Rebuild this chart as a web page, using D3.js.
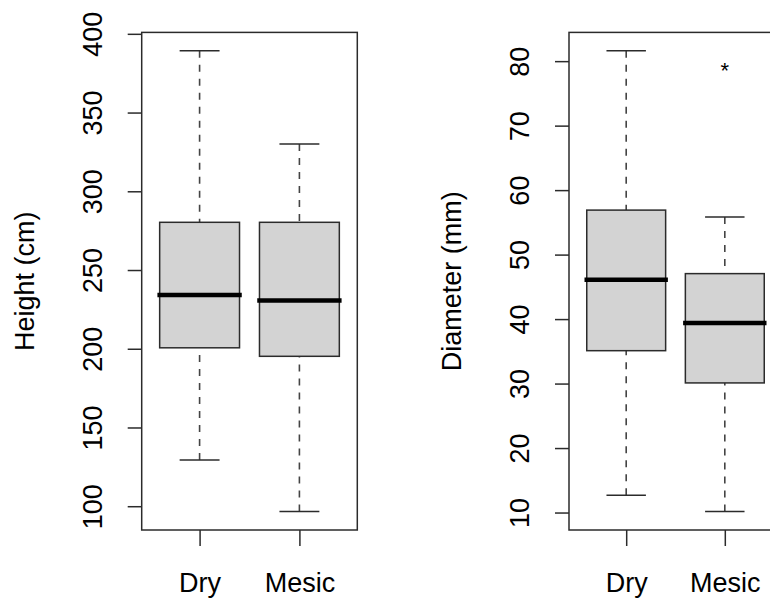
<!DOCTYPE html>
<html>
<head>
<meta charset="utf-8">
<script src="https://cdn.jsdelivr.net/npm/d3@7"></script>
<style>
  body { margin: 0; background: #fff; }
  svg { display: block; }
</style>
</head>
<body>
<div id="chart"></div>
<script>
const groups = ['Dry', 'Mesic'];

// Height (cm) boxplot stats
const heightMin = [129.3, 96.6];
const heightQ1 = [200.6, 195.2];
const heightMedian = [234.2, 230.7];
const heightQ3 = [280.3, 280.3];
const heightMax = [389.2, 330.0];
const heightOutliers = [[], []];
const heightTicks = [100, 150, 200, 250, 300, 350, 400];

// Diameter (mm) boxplot stats
const diamMin = [12.7, 10.15];
const diamQ1 = [35.1, 30.1];
const diamMedian = [46.1, 39.4];
const diamQ3 = [56.9, 47.05];
const diamMax = [81.6, 55.85];
const diamOutliers = [[], [79.3]];
const diamTicks = [10, 20, 30, 40, 50, 60, 70, 80];

const W = 770;
const H = 599;
const plotTop = 32.4;
const plotBottom = 530;
const font = "'Liberation Sans', Arial, sans-serif";
const ink = '#2b2b2b';

const svg = d3.select('#chart')
  .append('svg')
  .attr('width', W)
  .attr('height', H)
  .style('font-family', font);

svg.append('rect').attr('width', W).attr('height', H).attr('fill', '#fff');

const drawBoxplot = (cfg) => {
  const g = svg.append('g');

  // R style: range of everything, padded by 4%
  const all = cfg.min.concat(cfg.max, cfg.outliers.flat());
  const lo = d3.min(all);
  const hi = d3.max(all);
  const pad = (hi - lo) * 0.04;
  const y = d3.scaleLinear().domain([lo - pad, hi + pad]).range([plotBottom, plotTop]);
  const x = d3.scaleLinear().domain([0.42, 2.58]).range([cfg.left, cfg.left + cfg.width]);

  const rows = groups.map((name, i) => ({
    name,
    pos: i + 1,
    min: cfg.min[i],
    q1: cfg.q1[i],
    med: cfg.median[i],
    q3: cfg.q3[i],
    max: cfg.max[i],
    out: cfg.outliers[i],
  }));

  const half = x(1.4) - x(1);
  const capHalf = x(1.2) - x(1);

  // whiskers (dashed, drawn from the end toward the box)
  const ends = rows.flatMap((d) => [
    { pos: d.pos, from: d.max, to: d.q3 },
    { pos: d.pos, from: d.min, to: d.q1 },
  ]);
  g.selectAll('.whisker').data(ends)
    .enter().append('line')
    .attr('class', 'whisker')
    .attr('x1', (d) => x(d.pos))
    .attr('x2', (d) => x(d.pos))
    .attr('y1', (d) => y(d.from))
    .attr('y2', (d) => y(d.to))
    .attr('stroke', '#444')
    .attr('stroke-width', 1.6)
    .attr('stroke-dasharray', '7,7');

  // staples
  g.selectAll('.cap').data(ends)
    .enter().append('line')
    .attr('class', 'cap')
    .attr('x1', (d) => x(d.pos) - capHalf)
    .attr('x2', (d) => x(d.pos) + capHalf)
    .attr('y1', (d) => y(d.from))
    .attr('y2', (d) => y(d.from))
    .attr('stroke', ink)
    .attr('stroke-width', 1.5);

  g.selectAll('.box').data(rows)
    .enter().append('rect')
    .attr('class', 'box')
    .attr('x', (d) => x(d.pos) - half)
    .attr('y', (d) => y(d.q3))
    .attr('width', half * 2)
    .attr('height', (d) => y(d.q1) - y(d.q3))
    .attr('fill', '#d3d3d3')
    .attr('stroke', ink)
    .attr('stroke-width', 1.5);

  g.selectAll('.median').data(rows)
    .enter().append('line')
    .attr('class', 'median')
    .attr('x1', (d) => x(d.pos) - half)
    .attr('x2', (d) => x(d.pos) + half)
    .attr('y1', (d) => y(d.med))
    .attr('y2', (d) => y(d.med))
    .attr('stroke', '#000')
    .attr('stroke-width', 4.5)
    .attr('stroke-linecap', 'square');

  // outliers drawn as '*'
  const outs = rows.flatMap((d) => d.out.map((v) => ({ pos: d.pos, v })));
  g.selectAll('.outlier').data(outs)
    .enter().append('text')
    .attr('class', 'outlier')
    .attr('x', (d) => x(d.pos))
    .attr('y', (d) => y(d.v))
    .attr('dy', '0.55em')
    .attr('text-anchor', 'middle')
    .attr('font-size', 22)
    .text('*');

  // frame
  g.append('rect')
    .attr('x', cfg.left)
    .attr('y', plotTop)
    .attr('width', cfg.width)
    .attr('height', plotBottom - plotTop)
    .attr('fill', 'none')
    .attr('stroke', ink)
    .attr('stroke-width', 1.5);

  g.append('g')
    .attr('transform', `translate(${cfg.left},0)`)
    .call(d3.axisLeft(y).tickValues(cfg.ticks).tickSize(14))
    .attr('font-size', 27)
    .attr('font-family', font)
    .call((a) => a.select('.domain').remove())
    .call((a) => a.selectAll('.tick line').attr('stroke', ink).attr('stroke-width', 1.5))
    .call((a) => a.selectAll('.tick text')
      .attr('x', 0)
      .attr('dy', 0)
      .attr('fill', '#000')
      .attr('text-anchor', 'middle')
      .attr('transform', 'translate(-40,0) rotate(-90)'));

  g.append('g')
    .attr('transform', `translate(0,${plotBottom})`)
    .call(d3.axisBottom(x).tickValues([1, 2]).tickFormat((i) => groups[i - 1]).tickSize(16))
    .attr('font-size', 27)
    .attr('font-family', font)
    .call((a) => a.select('.domain').remove())
    .call((a) => a.selectAll('.tick line').attr('stroke', ink).attr('stroke-width', 1.5))
    .call((a) => a.selectAll('.tick text')
      .attr('y', 61.7)
      .attr('dy', 0)
      .attr('fill', '#000'));

  g.append('text')
    .attr('transform', `translate(${cfg.left - 107.6},${(plotTop + plotBottom) / 2}) rotate(-90)`)
    .attr('text-anchor', 'middle')
    .attr('font-size', 27)
    .text(cfg.label);
};

drawBoxplot({
  left: 141.7,
  width: 215.6,
  min: heightMin,
  q1: heightQ1,
  median: heightMedian,
  q3: heightQ3,
  max: heightMax,
  outliers: heightOutliers,
  ticks: heightTicks,
  label: 'Height (cm)',
});

drawBoxplot({
  left: 569,
  width: 213,
  min: diamMin,
  q1: diamQ1,
  median: diamMedian,
  q3: diamQ3,
  max: diamMax,
  outliers: diamOutliers,
  ticks: diamTicks,
  label: 'Diameter (mm)',
});
</script>
</body>
</html>
